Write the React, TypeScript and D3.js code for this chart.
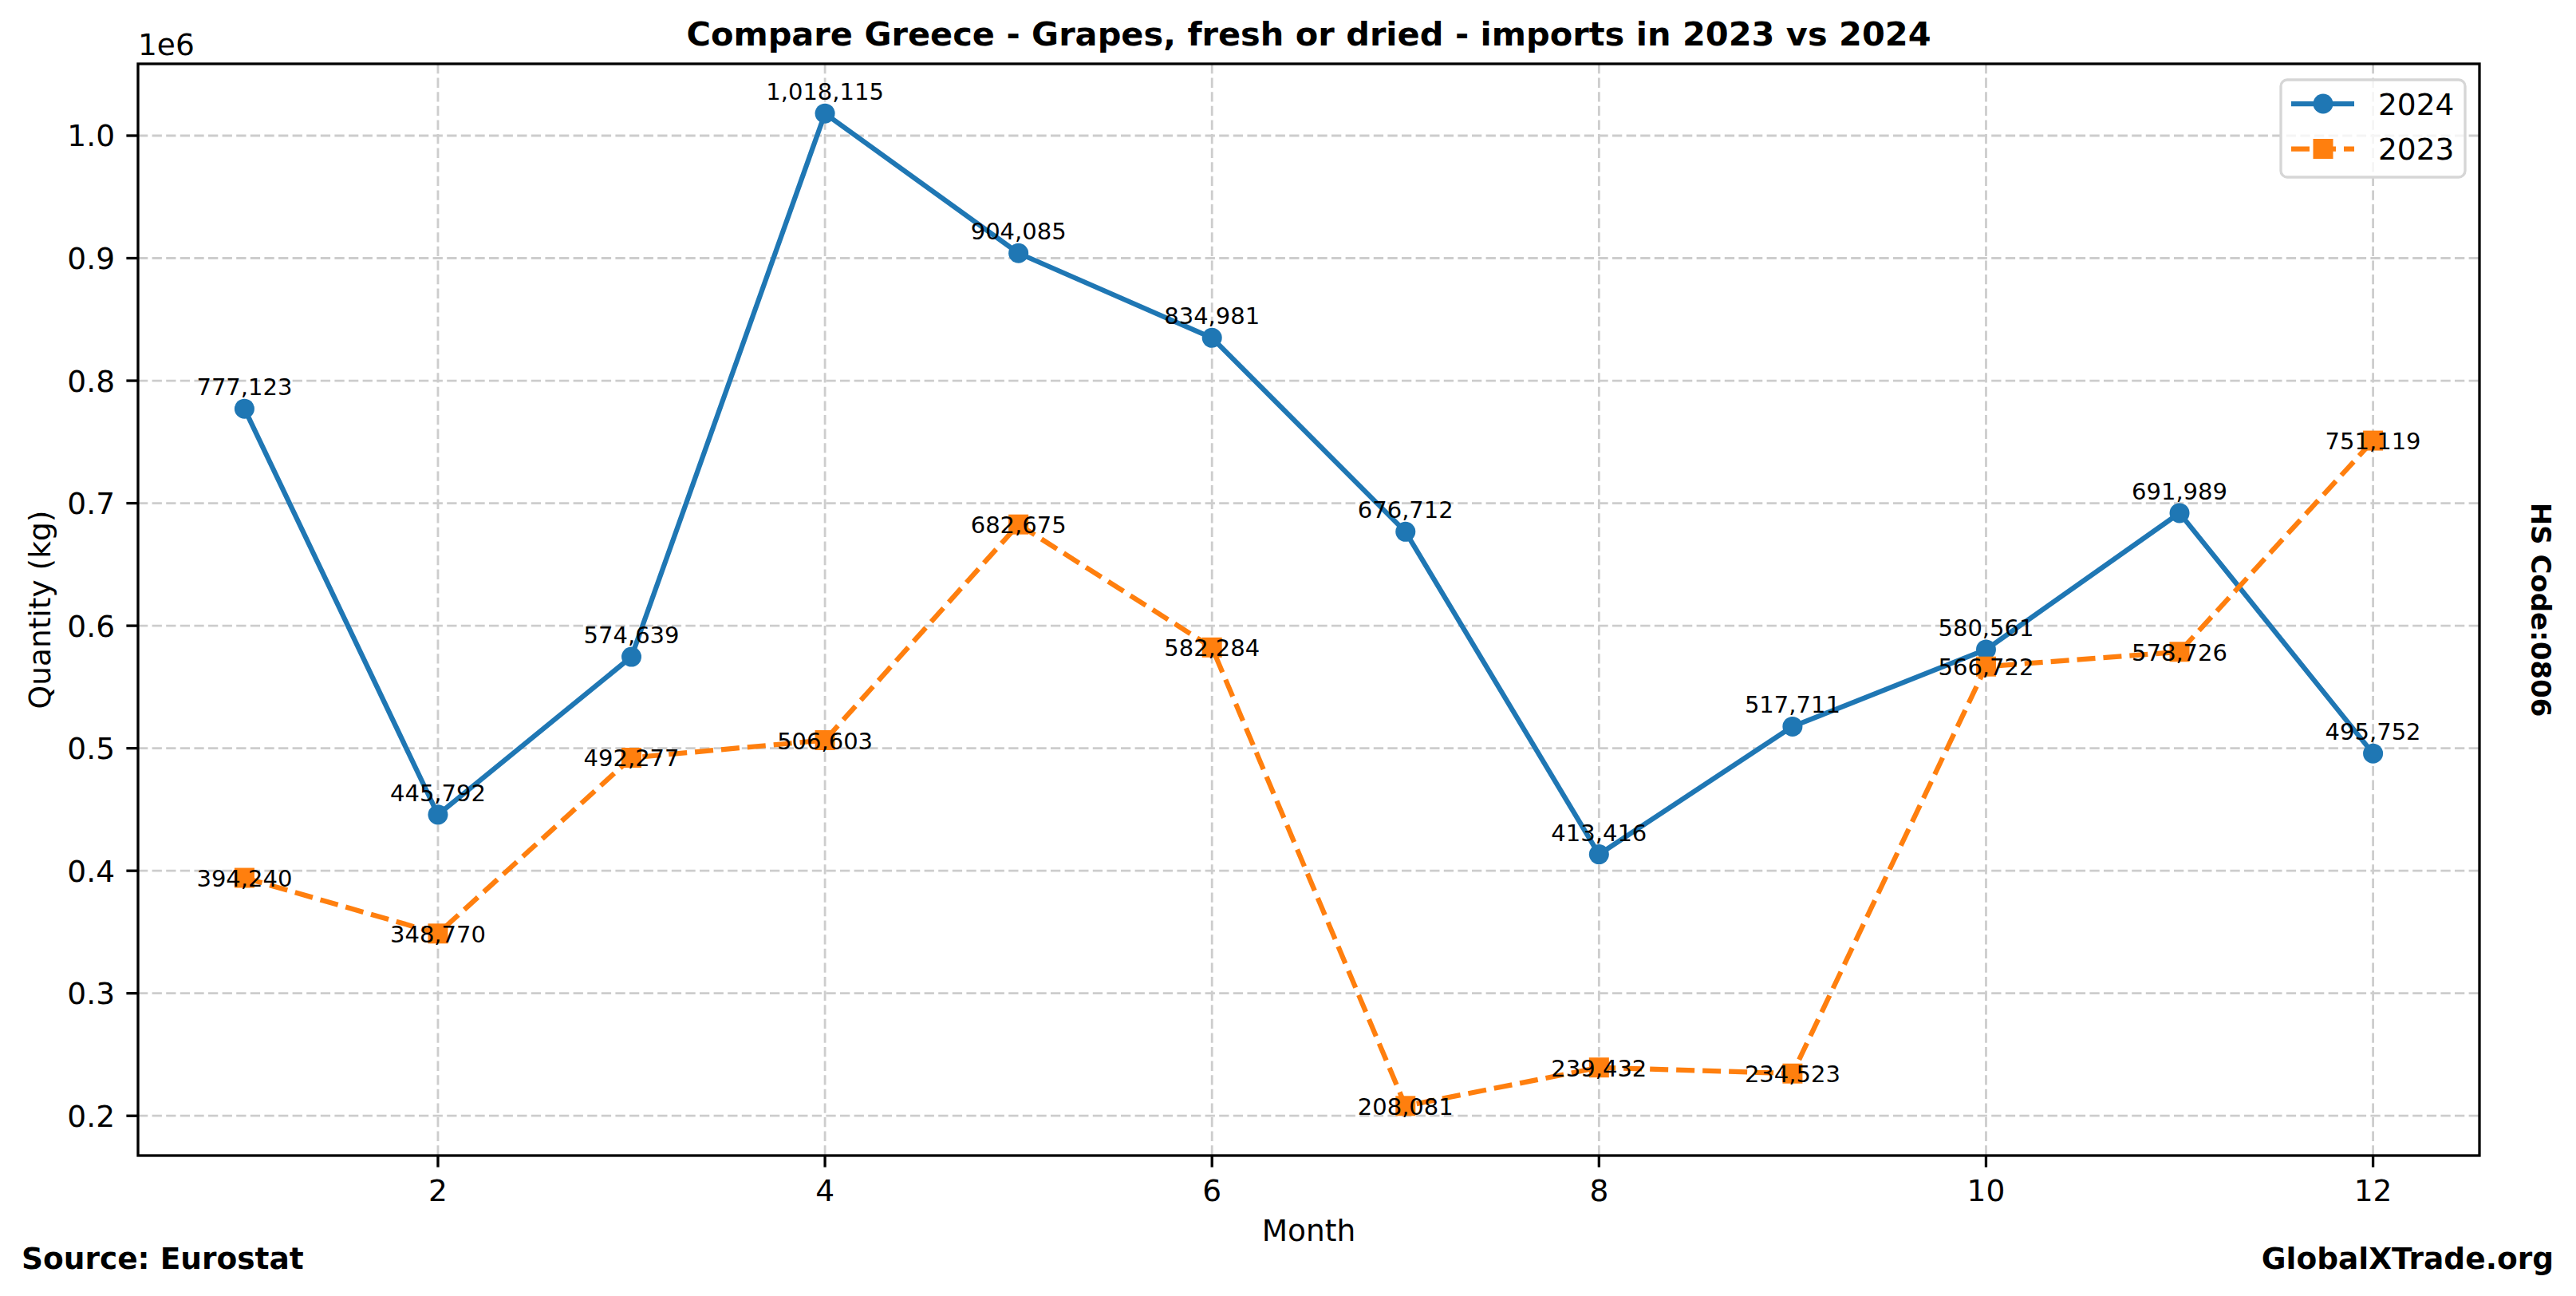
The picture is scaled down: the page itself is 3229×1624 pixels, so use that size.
import React, { FC, RefObject, useEffect, useRef } from "react"
import { format, line, max, min, scaleLinear, select } from "d3"

// data
const months = [1, 2, 3, 4, 5, 6, 7, 8, 9, 10, 11, 12]
const imports2024 = [
  777123, 445792, 574639, 1018115, 904085, 834981, 676712, 413416, 517711,
  580561, 691989, 495752,
]
const imports2023 = [
  394240, 348770, 492277, 506603, 682675, 582284, 208081, 239432, 234523,
  566722, 578726, 751119,
]
const seriesNames = ["2024", "2023"]
const xTicks = [2, 4, 6, 8, 10, 12]
const yTicks = [0.2, 0.3, 0.4, 0.5, 0.6, 0.7, 0.8, 0.9, 1.0]
const yExponent = "1e6"
const title = "Compare Greece - Grapes, fresh or dried - imports in 2023 vs 2024"
const xLabel = "Month"
const yLabel = "Quantity (kg)"
const sourceNote = "Source: Eurostat"
const siteNote = "GlobalXTrade.org"
const hsNote = "HS Code:0806"

const FONT = "DejaVu Sans, sans-serif"
const BLUE = "#1f77b4"
const ORANGE = "#ff7f0e"

type D = { month: number; value: number }

const App: FC = () => {
  const wrapperRef = useRef<HTMLDivElement>(null)

  useEffect(() => {
    drawChart(wrapperRef)
  }, [])

  const drawChart = (wrapperRef: RefObject<HTMLDivElement>) => {
    // dimensions
    const width = 3229
    const height = 1624
    const margins = { top: 80, right: 121, bottom: 176, left: 173 }
    const x0 = margins.left
    const x1 = width - margins.right
    const y0 = margins.top
    const y1 = height - margins.bottom

    select(wrapperRef.current).selectAll("*").remove()

    const svg = select(wrapperRef.current)
      .append("svg")
      .attr("width", width)
      .attr("height", height)
      .style("position", "absolute")
      .style("left", "0px")
      .style("top", "0px")
      .style("background", "white")
      .style("font-family", FONT)

    const data2024: D[] = months.map((m, i) => ({ month: m, value: imports2024[i] }))
    const data2023: D[] = months.map((m, i) => ({ month: m, value: imports2023[i] }))

    // x scale (matplotlib style 5% margins)
    const xMin = min(months) ?? 1
    const xMax = max(months) ?? 12
    const xPad = (xMax - xMin) * 0.05
    const xScale = scaleLinear()
      .domain([xMin - xPad, xMax + xPad])
      .range([x0, x1])

    // y scale
    const all = [...imports2024, ...imports2023]
    const yMin = min(all) ?? 0
    const yMax = max(all) ?? 0
    const yPad = (yMax - yMin) * 0.05
    const yScale = scaleLinear()
      .domain([yMin - yPad, yMax + yPad])
      .range([y1, y0])

    // grid
    const grid = svg.append("g")
    grid
      .selectAll("line.gx")
      .data(xTicks)
      .join("line")
      .attr("x1", (d) => xScale(d))
      .attr("x2", (d) => xScale(d))
      .attr("y1", y0)
      .attr("y2", y1)
      .attr("stroke", "#cdcdcd")
      .attr("stroke-width", 2.8)
      .attr("stroke-dasharray", "12.3,5.3")
    grid
      .selectAll("line.gy")
      .data(yTicks)
      .join("line")
      .attr("x1", x0)
      .attr("x2", x1)
      .attr("y1", (d) => yScale(d * 1e6))
      .attr("y2", (d) => yScale(d * 1e6))
      .attr("stroke", "#cdcdcd")
      .attr("stroke-width", 2.8)
      .attr("stroke-dasharray", "12.3,5.3")

    // lines
    const lineGenerator = line<D>()
      .x((d) => xScale(d.month))
      .y((d) => yScale(d.value))

    svg
      .append("path")
      .attr("d", lineGenerator(data2024))
      .attr("fill", "none")
      .attr("stroke", BLUE)
      .attr("stroke-width", 6.25)
      .attr("stroke-linejoin", "round")
      .attr("stroke-linecap", "square")

    svg
      .append("path")
      .attr("d", lineGenerator(data2023))
      .attr("fill", "none")
      .attr("stroke", ORANGE)
      .attr("stroke-width", 6.25)
      .attr("stroke-dasharray", "23,10")

    // markers
    svg
      .append("g")
      .selectAll("circle")
      .data(data2024)
      .join("circle")
      .attr("cx", (d) => xScale(d.month))
      .attr("cy", (d) => yScale(d.value))
      .attr("r", 12.5)
      .attr("fill", BLUE)

    svg
      .append("g")
      .selectAll("rect")
      .data(data2023)
      .join("rect")
      .attr("x", (d) => xScale(d.month) - 12.5)
      .attr("y", (d) => yScale(d.value) - 12.5)
      .attr("width", 25)
      .attr("height", 25)
      .attr("fill", ORANGE)

    // annotations
    const fmt = format(",.0f")
    svg
      .append("g")
      .selectAll("text")
      .data(data2024)
      .join("text")
      .attr("x", (d) => xScale(d.month))
      .attr("y", (d) => yScale(d.value) - 17)
      .attr("text-anchor", "middle")
      .attr("font-size", 29)
      .text((d) => fmt(d.value))

    svg
      .append("g")
      .selectAll("text")
      .data(data2023)
      .join("text")
      .attr("x", (d) => xScale(d.month))
      .attr("y", (d) => yScale(d.value) + 11)
      .attr("text-anchor", "middle")
      .attr("font-size", 29)
      .text((d) => fmt(d.value))

    // frame
    svg
      .append("rect")
      .attr("x", x0)
      .attr("y", y0)
      .attr("width", x1 - x0)
      .attr("height", y1 - y0)
      .attr("fill", "none")
      .attr("stroke", "black")
      .attr("stroke-width", 3.3)

    // x axis
    const xAxis = svg.append("g")
    xAxis
      .selectAll("line")
      .data(xTicks)
      .join("line")
      .attr("x1", (d) => xScale(d))
      .attr("x2", (d) => xScale(d))
      .attr("y1", y1)
      .attr("y2", y1 + 14.6)
      .attr("stroke", "black")
      .attr("stroke-width", 3.3)
    xAxis
      .selectAll("text")
      .data(xTicks)
      .join("text")
      .attr("x", (d) => xScale(d))
      .attr("y", y1 + 57)
      .attr("text-anchor", "middle")
      .attr("font-size", 37.5)
      .text((d) => String(d))

    // y axis
    const yAxis = svg.append("g")
    yAxis
      .selectAll("line")
      .data(yTicks)
      .join("line")
      .attr("x1", x0 - 14.6)
      .attr("x2", x0)
      .attr("y1", (d) => yScale(d * 1e6))
      .attr("y2", (d) => yScale(d * 1e6))
      .attr("stroke", "black")
      .attr("stroke-width", 3.3)
    yAxis
      .selectAll("text")
      .data(yTicks)
      .join("text")
      .attr("x", x0 - 29)
      .attr("y", (d) => yScale(d * 1e6))
      .attr("dy", "0.36em")
      .attr("text-anchor", "end")
      .attr("font-size", 37.5)
      .text((d) => format(".1f")(d))

    svg
      .append("text")
      .attr("x", x0)
      .attr("y", y0 - 11)
      .attr("font-size", 37.5)
      .text(yExponent)

    // labels
    svg
      .append("text")
      .attr("x", (x0 + x1) / 2)
      .attr("y", 57)
      .attr("text-anchor", "middle")
      .attr("font-size", 41.5)
      .attr("font-weight", "bold")
      .text(title)

    svg
      .append("text")
      .attr("x", (x0 + x1) / 2)
      .attr("y", 1555)
      .attr("text-anchor", "middle")
      .attr("font-size", 37.5)
      .text(xLabel)

    svg
      .append("text")
      .attr("transform", `translate(63, ${(y0 + y1) / 2}) rotate(-90)`)
      .attr("text-anchor", "middle")
      .attr("font-size", 37.5)
      .text(yLabel)

    svg
      .append("text")
      .attr("transform", `translate(3173, ${(y0 + y1) / 2}) rotate(90)`)
      .attr("text-anchor", "middle")
      .attr("font-size", 34)
      .attr("font-weight", "bold")
      .text(hsNote)

    svg
      .append("text")
      .attr("x", 27)
      .attr("y", 1590)
      .attr("font-size", 37.5)
      .attr("font-weight", "bold")
      .text(sourceNote)

    svg
      .append("text")
      .attr("x", 3201)
      .attr("y", 1590)
      .attr("text-anchor", "end")
      .attr("font-size", 37.5)
      .attr("font-weight", "bold")
      .text(siteNote)

    // legend
    const legend = svg.append("g").attr("transform", `translate(${x1 - 249}, ${y0 + 20})`)
    legend
      .append("rect")
      .attr("width", 231)
      .attr("height", 122)
      .attr("rx", 8)
      .attr("fill", "white")
      .attr("fill-opacity", 0.8)
      .attr("stroke", "#d6d6d6")
      .attr("stroke-width", 3.3)

    seriesNames.forEach((name, i) => {
      const cy = 30 + i * 56.5
      const color = i === 0 ? BLUE : ORANGE
      legend
        .append("line")
        .attr("x1", 13)
        .attr("x2", 92)
        .attr("y1", cy)
        .attr("y2", cy)
        .attr("stroke", color)
        .attr("stroke-width", 6.25)
        .attr("stroke-dasharray", i === 0 ? null : "23,10")
      if (i === 0) {
        legend.append("circle").attr("cx", 53).attr("cy", cy).attr("r", 12.5).attr("fill", color)
      } else {
        legend
          .append("rect")
          .attr("x", 40.5)
          .attr("y", cy - 12.5)
          .attr("width", 25)
          .attr("height", 25)
          .attr("fill", color)
      }
      legend
        .append("text")
        .attr("x", 122)
        .attr("y", cy)
        .attr("dy", "0.36em")
        .attr("font-size", 37.5)
        .text(name)
    })
  }

  return <div ref={wrapperRef} id="wrapper" />
}

export default App
